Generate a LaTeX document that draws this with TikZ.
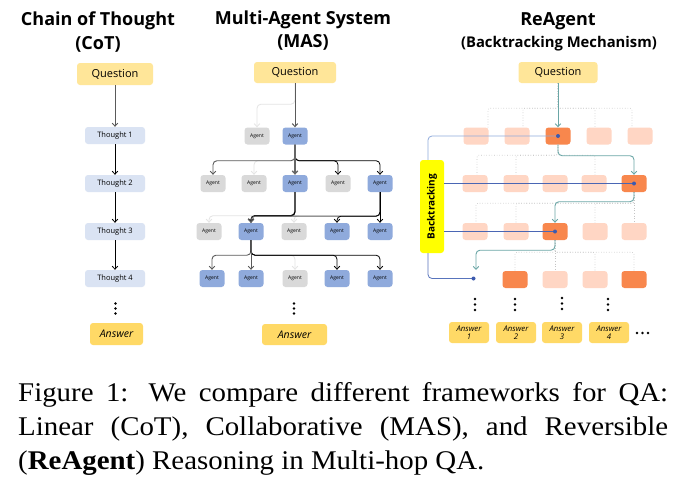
\documentclass[tikz,border=0pt]{standalone}
\usepackage{graphicx}
\usepackage{fontspec}
\setmainfont{Liberation Serif}
\newfontfamily\cf{Open Sans}
\usetikzlibrary{arrows.meta,calc}
\definecolor{qy}{HTML}{FFE699}
\definecolor{ay}{HTML}{FFD966}
\definecolor{tb}{HTML}{DAE3F3}
\definecolor{ag}{HTML}{D9D9D9}
\definecolor{ab}{HTML}{8FAADC}
\definecolor{ol}{HTML}{FFD6C4}
\definecolor{od}{HTML}{F8874D}
\definecolor{bty}{HTML}{FFFF00}
\definecolor{tealc}{HTML}{6AA6A6}
\definecolor{blA}{HTML}{8FAADC}
\definecolor{blB}{HTML}{4A66B4}
\definecolor{dotc}{HTML}{3D5AAE}
\definecolor{dotg}{HTML}{C4C4C4}
\definecolor{lg}{HTML}{E4E4E4}
\definecolor{dg}{HTML}{5A5A5A}
\begin{document}
\begin{tikzpicture}[x=1pt,y=-1pt,
  bx/.style={rounded corners=3pt, inner sep=0pt, align=center},
  qbox/.style={bx, fill=qy, minimum width=76pt, minimum height=22pt, font=\cf\fontsize{11}{13}\selectfont},
  abox/.style={bx, fill=ay, minimum width=53pt, minimum height=22pt, font=\cf\itshape\fontsize{10.5}{12}\selectfont},
  tbox/.style={bx, fill=tb, minimum width=60pt, minimum height=17pt, font=\cf\fontsize{7.5}{9}\selectfont},
  agbox/.style={bx, fill=ag, minimum width=25pt, minimum height=17pt, font=\cf\fontsize{5}{6}\selectfont},
  abbox/.style={bx, fill=ab, minimum width=25pt, minimum height=17pt, font=\cf\fontsize{5}{6}\selectfont},
  olbox/.style={bx, fill=ol, minimum width=25pt, minimum height=17pt},
  odbox/.style={bx, fill=od, minimum width=25pt, minimum height=17pt},
  rabox/.style={bx, fill=ay, minimum width=40pt, minimum height=21pt, font=\cf\itshape\fontsize{7.8}{8.2}\selectfont},
  ttl/.style={anchor=base, inner sep=0pt, font=\cf\bfseries\fontsize{18}{20}\selectfont},
  tip/.style={-{Straight Barb[length=3pt,width=5.5pt]}},
  con/.style={tip, line width=0.8pt, rounded corners=4pt},
  conk/.style={con, black},
  cond/.style={con, dg, line width=0.9pt},
  conl/.style={con, lg},
  conb/.style={con, black, line width=1.3pt},
  dotl/.style={dotg, dotted, line width=0.6pt, rounded corners=2pt},
  tl/.style={tip, tealc, line width=0.9pt, rounded corners=4pt},
  bl/.style={blB, line width=0.8pt, rounded corners=4pt},
  vd/.style={fill=black}
]
\fill[white] (0,0) rectangle (686,493);
\useasboundingbox (0,0) rectangle (686,493);

% ---------------- Chain of Thought ----------------
\node[ttl] (cott1) at (98,25) {Chain of Thought};
\node[ttl] (cott2) at (98,49) {(CoT)};
\node[qbox] (cq) at (115,74) {Question};
\node[tbox] (t1) at (115,135.5) {Thought 1};
\node[tbox] (t2) at (115,183.5) {Thought 2};
\node[tbox] (t3) at (115,231.5) {Thought 3};
\node[tbox] (t4) at (115,278.5) {Thought 4};
\node[abox] (ca) at (116.5,334) {Answer};
\draw[tip, dg, line width=0.9pt] (cq) -- (t1);
\draw[tip, black, line width=0.8pt] (t1) -- (t2);
\draw[tip, black, line width=0.8pt] (t2) -- (t3);
\draw[tip, black, line width=0.8pt] (t3) -- (t4);
\fill[vd] (115.5,303.5) circle[radius=1.3pt] (115.5,308.5) circle[radius=1.3pt] (115.5,313.5) circle[radius=1.3pt];

% ---------------- Multi-Agent System ----------------
\node[ttl] (mast1) at (303,24) {Multi-Agent System};
\node[ttl] (mast2) at (303,47) {(MAS)};
\node[qbox, minimum width=82pt, minimum height=21pt] (mq) at (295,72.5) {Question};
\node[agbox] (g1) at (257,136) {Agent};
\node[abbox] (b1) at (295,136) {Agent};
\node[agbox] (r2a) at (213,183.5) {Agent};
\node[agbox] (r2b) at (254,183.5) {Agent};
\node[abbox] (r2c) at (295,183.5) {Agent};
\node[agbox] (r2d) at (338,183.5) {Agent};
\node[abbox] (r2e) at (380,183.5) {Agent};
\node[agbox] (r3a) at (209,231.5) {Agent};
\node[abbox] (r3b) at (251,231.5) {Agent};
\node[agbox] (r3c) at (294,231.5) {Agent};
\node[abbox] (r3d) at (337,231.5) {Agent};
\node[abbox] (r3e) at (380,231.5) {Agent};
\node[abbox] (r4a) at (212,278.5) {Agent};
\node[abbox] (r4b) at (251,278.5) {Agent};
\node[agbox] (r4c) at (295,278.5) {Agent};
\node[abbox] (r4d) at (337,278.5) {Agent};
\node[abbox] (r4e) at (380,278.5) {Agent};
\node[abox, minimum width=65pt, minimum height=21pt] (ma) at (294.5,334.5) {Answer};

\draw[conl] (mq.south) -- ++(0,21) -| (g1.north);
\draw[cond, line width=1pt] (mq.south) -- (b1.north);
% b1 -> row 2
\draw[conl] (b1.south) -- ++(0,16) -| (r2b.north);
\draw[cond] (b1.south) -- ++(0,16) -| (r2a.north);
\draw[conk] (b1.south) -- ++(0,16) -| (r2d.north);
\draw[conk] (b1.south) -- ++(0,16) -| (r2e.north);
\draw[cond, line width=1.3pt, gray!80!black] (b1.south) -- (r2c.north);
% r2c, r2e -> row 3
\draw[conl] (r2c.south) -- ++(0,23.5) -| (r3a.north);
\draw[conl] (r2c.south) -- ++(0,23.5) -| (r3c.north);
\draw[conb] (r2c.south) -- ++(0,23.5) -| (r3b.north);
\draw[con, dg, line width=1pt] (r2e.south) -- ++(0,24) -| (r3b.north);
\draw[conk] (r2e.south) -- ++(0,24) -| (r3d.north);
\draw[conk] (r2e.south) -- (r3e.north);
% r3b -> row 4
\draw[conl] (r3b.south) -- ++(0,15) -| (r4c.north);
\draw[cond] (r3b.south) -- ++(0,15) -| (r4a.north);
\draw[conk] (r3b.south) -- ++(0,15) -| (r4d.north);
\draw[conk] (r3b.south) -- ++(0,15) -| (r4e.north);
\draw[cond] (r3b.south) -- (r4b.north);
\fill[vd] (294,303.5) circle[radius=1.3pt] (294,308.5) circle[radius=1.3pt] (294,313.5) circle[radius=1.3pt];

% ---------------- ReAgent ----------------
\node[ttl] (ret1) at (558,25) {ReAgent};
\node[ttl, font=\cf\bfseries\fontsize{14.8}{16}\selectfont] (ret2) at (559,47.5) {(Backtracking Mechanism)};
\node[qbox, minimum width=79pt, minimum height=21pt] (rq) at (558,72.5) {Question};
\node[olbox] (s1a) at (476,136) {};
\node[olbox] (s1b) at (517,136) {};
\node[odbox] (s1c) at (558,136) {};
\node[olbox] (s1d) at (599,136) {};
\node[olbox] (s1e) at (640,136) {};
\node[olbox] (s2a) at (475,183.5) {};
\node[olbox] (s2b) at (516,183.5) {};
\node[olbox] (s2c) at (555,183.5) {};
\node[olbox] (s2d) at (594,183.5) {};
\node[odbox] (s2e) at (634,183.5) {};
\node[olbox] (s3a) at (475,231.5) {};
\node[olbox] (s3b) at (516,231.5) {};
\node[odbox] (s3c) at (555,231.5) {};
\node[olbox] (s3d) at (595,231.5) {};
\node[olbox] (s3e) at (634,231.5) {};
\coordinate (s4a) at (473.5,278.5);
\node[odbox] (s4b) at (515,279.5) {};
\node[olbox] (s4c) at (555,279.5) {};
\node[olbox] (s4d) at (595,279.5) {};
\node[odbox] (s4e) at (634,279.5) {};
\node[bx, fill=bty, rotate=90, minimum width=93pt, minimum height=24pt, font=\cf\bfseries\fontsize{10}{12}\selectfont] (bt) at (432,206.5) {Backtracking};
\node[rabox] (ra1) at (469,332.5) {Answer\\1};
\node[rabox] (ra2) at (516,332.5) {Answer\\2};
\node[rabox] (ra3) at (562,332.5) {Answer\\3};
\node[rabox] (ra4) at (609,332.5) {Answer\\4};
\coordinate (tgt) at (476,270);

% dotted trees
\draw[dotl] (rq.south) -- ++(0,25) -| ([xshift=12pt]s1a.north);
\draw[dotl] (rq.south) -- ++(0,25) -| ([xshift=6pt]s1b.north);
\draw[dotl] (rq.south) -- ++(0,25) -| ([xshift=-4pt]s1d.north);
\draw[dotl] (rq.south) -- ++(0,25) -| ([xshift=-8pt]s1e.north);
\draw[dotl] (s1c.south) -- ++(0,10.5) -| ([xshift=2pt]s2a.north);
\draw[dotl] (s1c.south) -- ++(0,10.5) -| (s2b.north);
\draw[dotl] (s1c.south) -- ++(0,10.5) -| ([xshift=1pt]s2d.north);
\draw[dotl] (s2e.south) -- ++(0,11) -| ([xshift=1pt]s3a.north);
\draw[dotl] (s2e.south) -- ++(0,11) -| (s3b.north);
\draw[dotl] (s2e.south) -- ++(0,11) -| (s3d.north);
\draw[dotl] (s2e.south) -- (s3e.north);
\draw[dotl] (s3c.south) -- ++(0,12) -| (s4b.north);
\draw[dotl] (s3c.south) -- (s4c.north);
\draw[dotl] (s3c.south) -- ++(0,12) -| (s4d.north);
\draw[dotl] (s3c.south) -- ++(0,12) -| (s4e.north);

% teal path
\draw[tl] (rq.south) -- (s1c.north);
\draw[tl] (s1c.south) -- ++(0,11) -| (s2e.north);
\draw[tl] (s2e.south) -- ++(0,9.5) -| (s3c.north);
\draw[tl] (s3c.south) -- ++(0,10) -| (tgt);

% backtracking lines
\draw[bl, blA] (s1c.center) -| ([xshift=-4pt]bt.east);
\draw[bl] (bt.south |- s2e.center) -- (s2e.center);
\draw[bl] (bt.south |- s3c.center) -- (s3c.center);
\draw[bl, blB!80!blA] ([xshift=-4pt]bt.west) |- (s4a);
\fill[dotc] (s1c.center) circle[radius=2pt] (s2e.center) circle[radius=2pt] (s3c.center) circle[radius=2pt] (s4a) circle[radius=2pt];

% dots
\foreach \x/\y in {475/299, 515/299, 562/298, 608/299}{
  \fill[vd] (\x,\y) circle[radius=1.3pt] (\x,\y+5.5) circle[radius=1.3pt] (\x,\y+11) circle[radius=1.3pt];
}
\fill[vd] (637,333) circle[radius=1.4pt] (642.5,333) circle[radius=1.4pt] (648,333) circle[radius=1.4pt];

% ---------------- caption ----------------
\node[anchor=base west, inner sep=0pt] (cap) at (18,401) {\scalebox{1.07}[1]{\parbox[t]{607.5pt}{\fontsize{27}{34}\selectfont\hyphenpenalty=10000
Figure 1: We compare different frameworks for QA:\linebreak Linear (CoT), Collaborative (MAS), and Reversible\linebreak (\textbf{ReAgent}) Reasoning in Multi-hop QA.}}};
\end{tikzpicture}
\end{document}
